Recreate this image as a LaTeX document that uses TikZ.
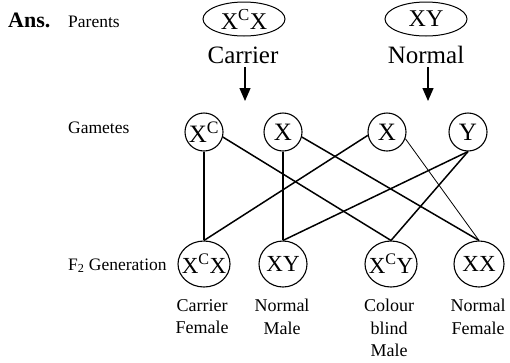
\documentclass[tikz,border=0pt]{standalone}
\usepackage{fontspec}
\setmainfont{Liberation Serif}
\usetikzlibrary{shapes.geometric,arrows.meta}
\begin{document}
\begin{tikzpicture}[x=1pt,y=-1pt,
  every node/.style={inner sep=0pt},
  parent/.style={draw, ellipse, line width=1pt, minimum width=82pt, minimum height=34pt,
                 font=\fontsize{24}{27}\selectfont},
  gamete/.style={draw, circle, line width=1.1pt, minimum size=38pt,
                 font=\fontsize{25}{28}\selectfont},
  child/.style={draw, ellipse, line width=1.1pt, minimum height=46pt,
                font=\fontsize{23}{26}\selectfont},
  side/.style={anchor=base west, font=\fontsize{17.5}{20}\selectfont},
  phen/.style={anchor=base, font=\fontsize{25}{28}\selectfont},
  caption/.style={anchor=north, align=center, font=\fontsize{18}{22.5}\selectfont},
  link/.style={line width=1.5pt},
  thinlink/.style={line width=0.8pt},
  down/.style={line width=1.3pt, -{Triangle[length=13pt,width=11pt]}}
]
\useasboundingbox (0,0) rectangle (510,362);

% row titles
\node[anchor=base west, font=\bfseries\fontsize{22}{24}\selectfont] (ans) at (8,27) {Ans.};
\node[side] (tparents) at (68,27) {Parents};
\node[side] (tgametes) at (68,133) {Gametes};
\node[side] (tfgen) at (68,270) {F\textsubscript{2} Generation};

% parents
\node[parent] (mother) at (244,19) {\makebox[0pt]{X\textsuperscript{C}X}};
\node[parent] (father) at (426,19) {\makebox[0pt]{XY}};
\node[phen] (mlab) at (243,63) {Carrier};
\node[phen] (flab) at (426,63) {Normal};
\coordinate (ma) at (245,67);
\coordinate (mb) at (245,101);
\coordinate (fa) at (428,67);
\coordinate (fb) at (428,101);
\draw[down] (ma) -- (mb);
\draw[down] (fa) -- (fb);

% gametes
\node[gamete] (g1) at (204,132) {\makebox[0pt]{X\textsuperscript{C}}};
\node[gamete] (g2) at (283,132) {\makebox[0pt]{X}};
\node[gamete] (g3) at (387,132) {\makebox[0pt]{X}};
\node[gamete] (g4) at (468,132) {\makebox[0pt]{Y}};

% offspring
\node[child, minimum width=52pt] (f1) at (204,264) {\makebox[0pt]{X\textsuperscript{C}X}};
\node[child, minimum width=48pt] (f2) at (283,264) {\makebox[0pt]{XY}};
\node[child, minimum width=52pt] (f3) at (391,264) {\makebox[0pt]{X\textsuperscript{C}Y}};
\node[child, minimum width=50pt] (f4) at (479,264) {\makebox[0pt]{XX}};

\node[caption] (c1) at (202,299) {Carrier\\Female};
\node[caption] (c2) at (282,299) {Normal\\Male};
\node[caption] (c3) at (389,299) {Colour\\blind\\Male};
\node[caption] (c4) at (478,299) {Normal\\Female};

% crosses
\draw[link] (g1.south) -- (f1.north);
\draw[link] (g1.-15) -- (f3.north);
\draw[link] (g2.south) -- (f2.north);
\draw[link] (g2.-15) -- (f4.north);
\draw[link] (g3.190) -- (f1.north);
\draw[thinlink] (g3.-20) -- (f4.north);
\draw[link] (g4.south) -- (f2.north);
\draw[link] (g4.south) -- (f3.north);
\end{tikzpicture}
\end{document}
